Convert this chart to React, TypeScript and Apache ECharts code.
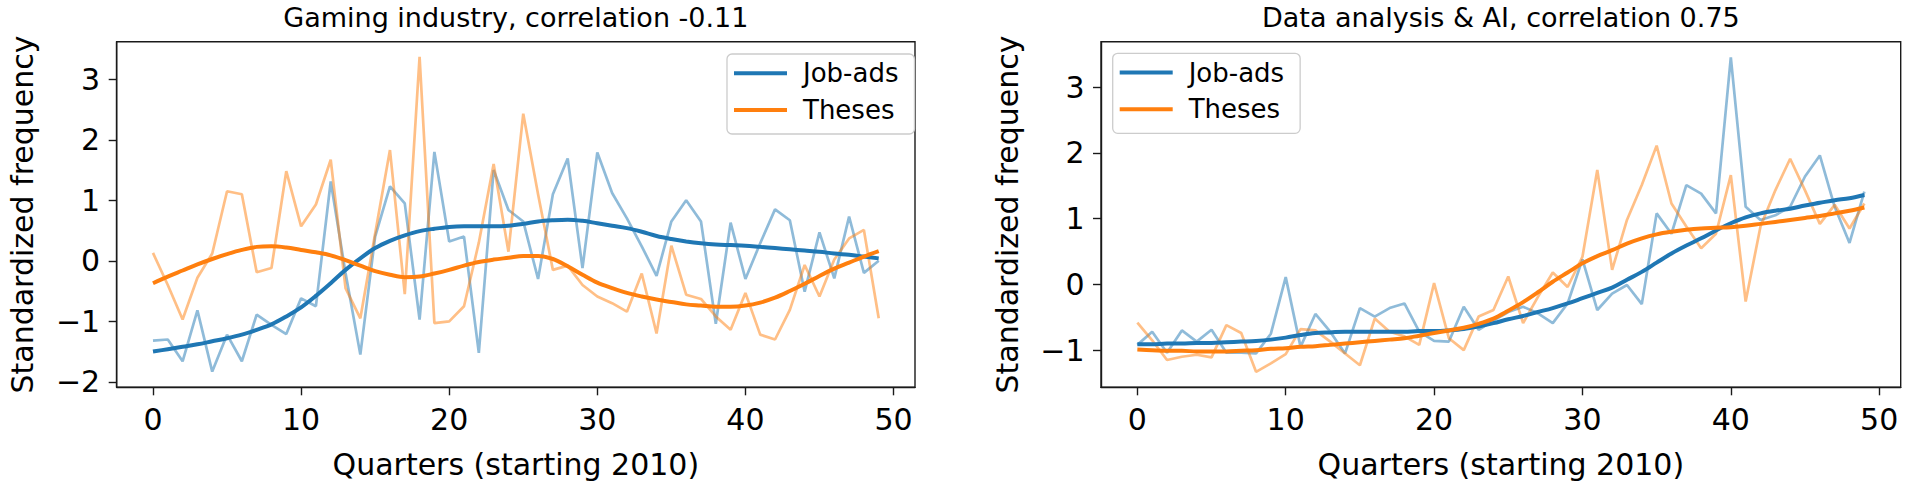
import React, { useEffect, useRef } from "react";
import * as echarts from "echarts";

const QUARTERS = [
  0, 1, 2, 3, 4, 5, 6, 7, 8, 9, 10, 11, 12, 13, 14, 15, 16, 17, 18, 19, 20, 21, 22, 23, 24,
  25, 26, 27, 28, 29, 30, 31, 32, 33, 34, 35, 36, 37, 38, 39, 40, 41, 42, 43, 44, 45, 46, 47, 48, 49,
];

const GAMING_JOBADS_RAW = [
  -1.32, -1.3, -1.66, -0.82, -1.83, -1.22, -1.66, -0.89, -1.06, -1.21, -0.62, -0.75, 1.31, -0.2, -1.55,
  0.4, 1.23, 0.95, -0.97, 1.8, 0.32, 0.4, -1.52, 1.5, 0.84, 0.65, -0.3, 1.1, 1.69, -0.12, 1.79, 1.12,
  0.7, 0.24, -0.25, 0.65, 1.0, 0.65, -1.04, 0.63, -0.3, 0.29, 0.85, 0.67, -0.51, 0.47, -0.29, 0.73, -0.2, 0.0,
];
const GAMING_THESES_RAW = [
  0.13, -0.4, -0.97, -0.28, 0.12, 1.15, 1.1, -0.19, -0.12, 1.48, 0.57, 0.93, 1.67, -0.45, -0.95, 0.45,
  1.83, -0.55, 3.37, -1.03, -1.0, -0.75, 0.3, 1.6, 0.15, 2.43, 1.1, -0.15, -0.08, -0.4, -0.59, -0.7,
  -0.84, -0.21, -1.2, 0.25, -0.56, -0.63, -0.92, -1.14, -0.53, -1.22, -1.3, -0.81, -0.07, -0.59, 0.02,
  0.37, 0.51, -0.95,
];
const GAMING_JOBADS_SMOOTH = [
  -1.5, -1.46, -1.42, -1.38, -1.33, -1.28, -1.22, -1.14, -1.05, -0.92, -0.77, -0.58, -0.37, -0.15, 0.04,
  0.21, 0.33, 0.42, 0.49, 0.53, 0.56, 0.57, 0.57, 0.57, 0.58, 0.61, 0.65, 0.67, 0.68, 0.66, 0.62, 0.58,
  0.54, 0.48, 0.41, 0.36, 0.32, 0.29, 0.27, 0.26, 0.25, 0.23, 0.21, 0.19, 0.17, 0.15, 0.12, 0.1, 0.07, 0.04,
];
const GAMING_THESES_SMOOTH = [
  -0.37, -0.26, -0.16, -0.06, 0.03, 0.11, 0.18, 0.23, 0.24, 0.22, 0.18, 0.14, 0.09, 0.01, -0.08, -0.17,
  -0.23, -0.27, -0.26, -0.21, -0.15, -0.08, -0.02, 0.02, 0.05, 0.08, 0.08, 0.03, -0.09, -0.23, -0.36,
  -0.45, -0.53, -0.59, -0.64, -0.68, -0.72, -0.74, -0.76, -0.76, -0.74, -0.69, -0.61, -0.5, -0.38, -0.25,
  -0.13, -0.03, 0.07, 0.16,
];

const DATA_JOBADS_RAW = [
  -0.92, -0.72, -1.04, -0.7, -0.87, -0.69, -1.04, -1.04, -1.05, -0.75, 0.11, -0.95, -0.45, -0.72, -1.05,
  -0.36, -0.49, -0.36, -0.29, -0.72, -0.86, -0.87, -0.34, -0.69, -0.55, -0.42, -0.34, -0.44, -0.59, -0.29,
  0.38, -0.39, -0.14, -0.01, -0.3, 1.08, 0.77, 1.51, 1.38, 1.08, 3.45, 1.18, 0.98, 1.05, 1.18, 1.64, 1.96,
  1.18, 0.63, 1.41,
];
const DATA_THESES_RAW = [
  -0.58, -0.85, -1.15, -1.1, -1.07, -1.11, -0.62, -0.74, -1.33, -1.2, -1.06, -0.68, -0.7, -0.87, -1.05,
  -1.23, -0.52, -0.72, -0.79, -0.92, 0.02, -0.82, -1.0, -0.49, -0.39, 0.12, -0.59, -0.19, 0.18, -0.04,
  0.42, 1.74, 0.22, 0.98, 1.51, 2.11, 1.23, 0.88, 0.55, 0.77, 1.66, -0.26, 0.88, 1.43, 1.91, 1.43, 0.92,
  1.21, 0.85, 1.23,
];
const DATA_JOBADS_SMOOTH = [
  -0.91, -0.91, -0.9, -0.9, -0.89, -0.89, -0.88, -0.87, -0.86, -0.84, -0.81, -0.77, -0.74, -0.73, -0.72,
  -0.72, -0.72, -0.72, -0.72, -0.71, -0.71, -0.7, -0.68, -0.64, -0.59, -0.53, -0.48, -0.42, -0.36, -0.29,
  -0.21, -0.13, -0.05, 0.07, 0.19, 0.33, 0.47, 0.59, 0.7, 0.82, 0.93, 1.02, 1.08, 1.12, 1.15, 1.2, 1.24,
  1.28, 1.31, 1.36,
];
const DATA_THESES_SMOOTH = [
  -0.99, -1.0, -1.01, -1.01, -1.02, -1.02, -1.02, -1.01, -1.0, -0.98, -0.97, -0.95, -0.94, -0.92, -0.9,
  -0.88, -0.86, -0.84, -0.82, -0.78, -0.74, -0.7, -0.66, -0.6, -0.52, -0.4, -0.27, -0.12, 0.04, 0.18,
  0.32, 0.43, 0.52, 0.62, 0.7, 0.76, 0.8, 0.83, 0.85, 0.86, 0.87, 0.89, 0.92, 0.95, 0.98, 1.01, 1.04,
  1.08, 1.12, 1.17,
];

const X_TICKS = [0, 10, 20, 30, 40, 50];
const GAMING_Y_TICKS = [-2, -1, 0, 1, 2, 3];
const DATA_Y_TICKS = [-1, 0, 1, 2, 3];
const TITLES = ["Gaming industry, correlation -0.11", "Data analysis & AI, correlation 0.75"];
const SERIES_NAMES = ["Job-ads", "Theses"];
const X_NAME = "Quarters (starting 2010)";
const Y_NAME = "Standardized frequency";

const FONT = "DejaVu Sans";
const BLUE = "#1f77b4";
const ORANGE = "#ff7f0e";
const INK = "#000000";
const FRAME = "#1a1a1a";

const pairs = (vals: number[]) => QUARTERS.map((q, i) => [q, vals[i]]);
const fmt = (v: number) => (v < 0 ? "\u2212" + Math.abs(v) : String(v));

const GRIDS = [
  { left: 116.7, top: 41.7, width: 798.3, height: 345.6 },
  { left: 1101, top: 41.7, width: 799.7, height: 345.6 },
];

function makeXAxis(gridIndex: number) {
  return {
    type: "value",
    gridIndex,
    min: -2.45,
    max: 51.45,
    name: X_NAME,
    nameLocation: "middle",
    nameGap: 62,
    nameTextStyle: { fontFamily: FONT, fontSize: 30, color: INK },
    axisLine: { show: true, onZero: false, lineStyle: { color: FRAME, width: 1.4 } },
    axisTick: { show: true, length: 8, customValues: X_TICKS, lineStyle: { color: FRAME, width: 1.4 } },
    axisLabel: {
      customValues: X_TICKS,
      margin: 17,
      fontFamily: FONT,
      fontSize: 30,
      color: INK,
      formatter: (v: number) => fmt(v),
    },
    splitLine: { show: false },
  };
}

function makeYAxis(gridIndex: number, min: number, max: number, ticks: number[]) {
  return {
    type: "value",
    gridIndex,
    min,
    max,
    name: Y_NAME,
    nameLocation: "middle",
    nameRotate: 90,
    nameGap: 79,
    nameTextStyle: { fontFamily: FONT, fontSize: 30, color: INK },
    axisLine: { show: true, onZero: false, lineStyle: { color: FRAME, width: 1.4 } },
    axisTick: { show: true, length: 8, customValues: ticks, lineStyle: { color: FRAME, width: 1.4 } },
    axisLabel: {
      customValues: ticks,
      margin: 16.5,
      fontFamily: FONT,
      fontSize: 30,
      color: INK,
      formatter: (v: number) => fmt(v),
    },
    splitLine: { show: false },
  };
}

function rawSeries(name: string, idx: number, vals: number[], color: string) {
  return {
    type: "line",
    name: name + " (raw)",
    xAxisIndex: idx,
    yAxisIndex: idx,
    data: pairs(vals),
    showSymbol: false,
    symbol: "none",
    itemStyle: { color },
    lineStyle: { color, width: 2.7, opacity: 0.5 },
    silent: true,
    z: 2,
  };
}

function smoothSeries(name: string, idx: number, vals: number[], color: string) {
  return {
    type: "line",
    name,
    xAxisIndex: idx,
    yAxisIndex: idx,
    data: pairs(vals),
    showSymbol: false,
    symbol: "none",
    smooth: 0.35,
    itemStyle: { color },
    lineStyle: { color, width: 4 },
    silent: true,
    z: 3,
  };
}

function makeLegend(left: number, top: number) {
  return {
    data: SERIES_NAMES,
    orient: "vertical",
    left,
    top,
    icon: "rect",
    itemWidth: 53,
    itemHeight: 4,
    itemGap: 10.7,
    padding: [6.3, 16, 11, 7],
    selectedMode: false,
    backgroundColor: "rgba(255,255,255,0.8)",
    borderColor: "#cccccc",
    borderWidth: 1.3,
    borderRadius: 5,
    textStyle: { fontFamily: FONT, fontSize: 26, color: INK, padding: [0, 0, 0, 11] },
  };
}

export default function App() {
  const ref = useRef<HTMLDivElement>(null);

  useEffect(() => {
    if (!ref.current) return;
    const chart = echarts.init(ref.current, null, { renderer: "svg" });
    const option = {
      animation: false,
      backgroundColor: "#ffffff",
      textStyle: { fontFamily: FONT },
      grid: GRIDS.map((g) => ({
        ...g,
        show: true,
        borderColor: FRAME,
        borderWidth: 1.4,
        backgroundColor: "transparent",
        containLabel: false,
      })),
      xAxis: [makeXAxis(0), makeXAxis(1)],
      yAxis: [
        makeYAxis(0, -2.09, 3.62, GAMING_Y_TICKS),
        makeYAxis(1, -1.565, 3.69, DATA_Y_TICKS),
      ],
      legend: [makeLegend(727, 54), makeLegend(1112.7, 53.3)],
      graphic: TITLES.map((t, i) => ({
        type: "text",
        x: GRIDS[i].left + GRIDS[i].width / 2,
        y: 17.4,
        silent: true,
        style: {
          text: t,
          fontFamily: FONT,
          fontSize: 27,
          fill: INK,
          align: "center",
          verticalAlign: "middle",
        },
      })),
      series: [
        rawSeries(SERIES_NAMES[0], 0, GAMING_JOBADS_RAW, BLUE),
        rawSeries(SERIES_NAMES[1], 0, GAMING_THESES_RAW, ORANGE),
        smoothSeries(SERIES_NAMES[0], 0, GAMING_JOBADS_SMOOTH, BLUE),
        smoothSeries(SERIES_NAMES[1], 0, GAMING_THESES_SMOOTH, ORANGE),
        rawSeries(SERIES_NAMES[0], 1, DATA_JOBADS_RAW, BLUE),
        rawSeries(SERIES_NAMES[1], 1, DATA_THESES_RAW, ORANGE),
        smoothSeries(SERIES_NAMES[0], 1, DATA_JOBADS_SMOOTH, BLUE),
        smoothSeries(SERIES_NAMES[1], 1, DATA_THESES_SMOOTH, ORANGE),
      ],
    };
    chart.setOption(option as any);
    return () => chart.dispose();
  }, []);

  return (
    <div
      ref={ref}
      style={{ position: "fixed", left: 0, top: 0, width: 1906, height: 486, background: "#fff" }}
    />
  );
}
